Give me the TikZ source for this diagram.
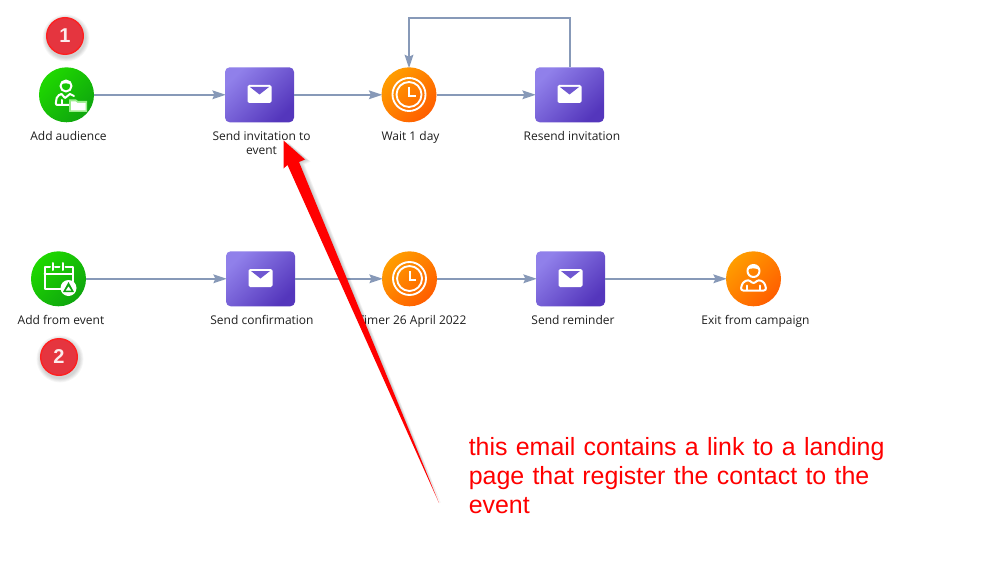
\documentclass[tikz,border=0pt]{standalone}
\usepackage{fontspec}
\setmainfont{Open Sans}
\newfontfamily\arialfont{Liberation Sans}
\usetikzlibrary{arrows.meta,calc}
\definecolor{linkc}{HTML}{8799B8}
\definecolor{grnA}{HTML}{1FD800}
\definecolor{grnB}{HTML}{0EA50E}
\definecolor{purA}{HTML}{9080EA}
\definecolor{purB}{HTML}{5436BC}
\definecolor{orgA}{HTML}{FF9D00}
\definecolor{orgB}{HTML}{FF5E00}
\definecolor{badge}{HTML}{E5353F}
\definecolor{badgeline}{HTML}{FF1F1F}
\tikzset{
  x=0.75pt,y=-0.75pt,
  circnode/.style={circle,draw=none,minimum size=41.25pt,inner sep=0pt,top color=#1A,bottom color=#1B,shading angle=45},
  boxnode/.style={rectangle,rounded corners=3.5pt,draw=none,minimum width=51.75pt,minimum height=41.25pt,inner sep=0pt,top color=purA,bottom color=purB,shading angle=45},
  lbl/.style={font=\fontsize{9}{10.8}\selectfont,text=black!88,align=center,inner sep=0pt,anchor=north},
  link/.style={draw=linkc,line width=1.5pt,-{Stealth[length=10pt,width=6.5pt,inset=1.5pt]},shorten >=-0.8pt},
  badgenode/.style={circle,draw=badgeline,line width=1pt,fill=badge,minimum size=27.5pt,inner sep=0pt,text=white!90!badge,font=\arialfont\bfseries\fontsize{15}{15}\selectfont},
  icon/.style={draw=white,line width=1.5pt,line join=round,line cap=round},
}
\newcommand{\softshadow}[3]{% x y r
  \foreach \k in {1,...,5}{\fill[black,opacity=0.035] (#1+1,#2+2) circle[radius=#3+\k*0.9];}
}
\newcommand{\envelope}[3]{%
  \begin{scope}[shift={(#1,#2)}]
    \fill[white,rounded corners=1.2pt] (-12,-9) rectangle (12,9);
    \fill[#3] (-9.5,-7) -- (9.5,-7) -- (0,0.5) -- cycle;
  \end{scope}}
\newcommand{\clock}[2]{%
  \begin{scope}[shift={(#1,#2)}]
    \draw[white,line width=1.4pt] (0,0) circle[radius=16.5];
    \draw[white,line width=1.4pt] (0,0) circle[radius=12.5];
    \draw[white,line width=1.5pt] (0,-7.5) -- (0,1.5) -- (6.5,1.5);
  \end{scope}}
\newcommand{\personicon}[2]{%
  \begin{scope}[shift={(#1,#2)}]
    \draw[icon] (0,-7) circle[radius=6];
    \fill[white] (-6.5,-8) .. controls (-5,-14.5) and (5,-14.5) .. (6.5,-8) .. controls (2,-10) and (-2,-10.5) .. (-6.5,-8) -- cycle;
    \draw[icon,rounded corners=2pt] (-5,1.5) -- (-11,4.5) -- (-13,12.5) -- (13,12.5) -- (11,4.5) -- (5,1.5) -- (0,6) -- cycle;
    \draw[icon] (-6.5,7.5) -- (-6.5,12) (6.5,7.5) -- (6.5,12);
  \end{scope}}
\begin{document}
\begin{tikzpicture}
\useasboundingbox (0,0) rectangle (987,581);
\fill[white] (0,0) rectangle (987,581);
% nodes row 1
\node[circnode=grn] (aud) at (66.5,94.8) {};
\node[boxnode] (inv) at (259.5,94.8) {};
\node[circnode=org] (wait) at (409,94.8) {};
\node[boxnode] (res) at (569.5,94.8) {};
% nodes row 2
\node[circnode=grn] (evt) at (58.5,278.8) {};
\node[boxnode] (conf) at (260.5,278.8) {};
\node[circnode=org] (tim) at (409.5,278.8) {};
\node[boxnode] (rem) at (570.5,278.8) {};
\node[circnode=org] (exit) at (753.5,278.8) {};
% connectors
\draw[link] (aud) -- (inv);
\draw[link] (inv) -- (wait);
\draw[link] (wait) -- (res);
\draw[link] (res.north) -- ++(0,-49) -| (wait.north);
\draw[link] (evt) -- (conf);
\draw[link] (conf) -- (tim);
\draw[link] (tim) -- (rem);
\draw[link] (rem) -- (exit);
% icons
\envelope{259.5}{94}{purA!45!purB}
\envelope{569.5}{94}{purA!45!purB}
\envelope{260.5}{278}{purA!45!purB}
\envelope{570.5}{278}{purA!45!purB}
\clock{409}{94.5}
\clock{409.5}{278.5}
\personicon{753.5}{278}
% add audience icon
\begin{scope}[shift={(66,92)}]
  \draw[icon] (0,-6) circle[radius=5.5];
  \fill[white] (-6,-7) .. controls (-5,-13) and (5,-13) .. (6,-7) .. controls (2,-9) and (-2,-9.5) .. (-6,-7) -- cycle;
  \draw[icon,rounded corners=1.5pt] (-4.5,2) -- (-9,4) -- (-10.5,13) -- (3,13);
  \draw[icon] (-4.5,2) -- (-1,6) -- (4,2) -- (8,4);
  \draw[icon] (-4,8) -- (-4,13);
  \fill[grnA!45!white] (3,7.5) -- (10,7.5) -- (12,9) -- (21,9) -- (21,20) -- (3,20) -- cycle;
  \fill[white] (5,9.5) -- (9.5,9.5) -- (11.5,11) -- (19.5,11) -- (19.5,18.5) -- (5,18.5) -- cycle;
\end{scope}
% add from event icon
\begin{scope}[shift={(58.5,278.5)}]
  \draw[icon] (-8.5,-11.5) -- (-14,-11.5) -- (-14,10.5) -- (3,10.5);
  \draw[icon] (-3.5,-11.5) -- (1,-11.5);
  \draw[icon] (7,-11.5) -- (14.5,-11.5) -- (14.5,3);
  \draw[icon] (-14,-4.5) -- (14.5,-4.5);
  \draw[icon] (-6,-15.5) -- (-6,-8.5) (4.5,-15.5) -- (4.5,-8.5);
  \fill[white] (10,9.5) circle[radius=8];
  \fill[grnB] (10,3.5) -- (15.5,13.5) -- (4.5,13.5) -- cycle;
  \fill[white] (10,8) -- (12.7,12) -- (7.3,12) -- cycle;
\end{scope}
% labels
\node[lbl] (lb1) at (68.5,131) {Add audience};
\node[lbl] (lb2) at (261.5,131) {Send invitation to\\event};
\node[lbl] (lb3) at (410.5,131) {Wait 1 day};
\node[lbl] (lb4) at (572,131) {Resend invitation};
\node[lbl] (lb5) at (61,315) {Add from event};
\node[lbl] (lb6) at (262,315) {Send confirmation};
\node[lbl] (lb7) at (412,315) {Timer 26 April 2022};
\node[lbl] (lb8) at (573,315) {Send reminder};
\node[lbl] (lb9) at (755.5,315) {Exit from campaign};
% badges
\softshadow{65}{36}{19}
\softshadow{59}{357}{19}
\node[badgenode] (b1) at (65,36) {1};
\node[badgenode] (b2) at (59,357) {2};
% red arrow
\coordinate (tail) at (439,503);
\coordinate (tip) at (283.5,140.5);
\foreach \k in {1,...,5}{
  \fill[black,opacity=0.045] ($(tip)+(\k*1.1,\k*0.5)$) -- ($(305,159)+(\k*1.1,\k*0.5)$) -- ($(299,162)+(\k*1.1,\k*0.5)$) -- ($(tail)+(\k*.4,0)$) -- ($(287,165)+(\k*1.1,\k*0.5)$) -- cycle;
}
\fill[red] (tip) -- (305,159.5) -- (299,162) -- (tail) -- (287.5,165) -- (283.5,168.5) -- cycle;
% callout
\node[text=red,font=\arialfont\fontsize{18.7}{21.75}\selectfont,align=left,anchor=north west,inner sep=0pt,text width=340pt] (note) at (468.5,437.2) {this email contains a link to a landing\\page that register the contact to the\\event};
\end{tikzpicture}
\end{document}
